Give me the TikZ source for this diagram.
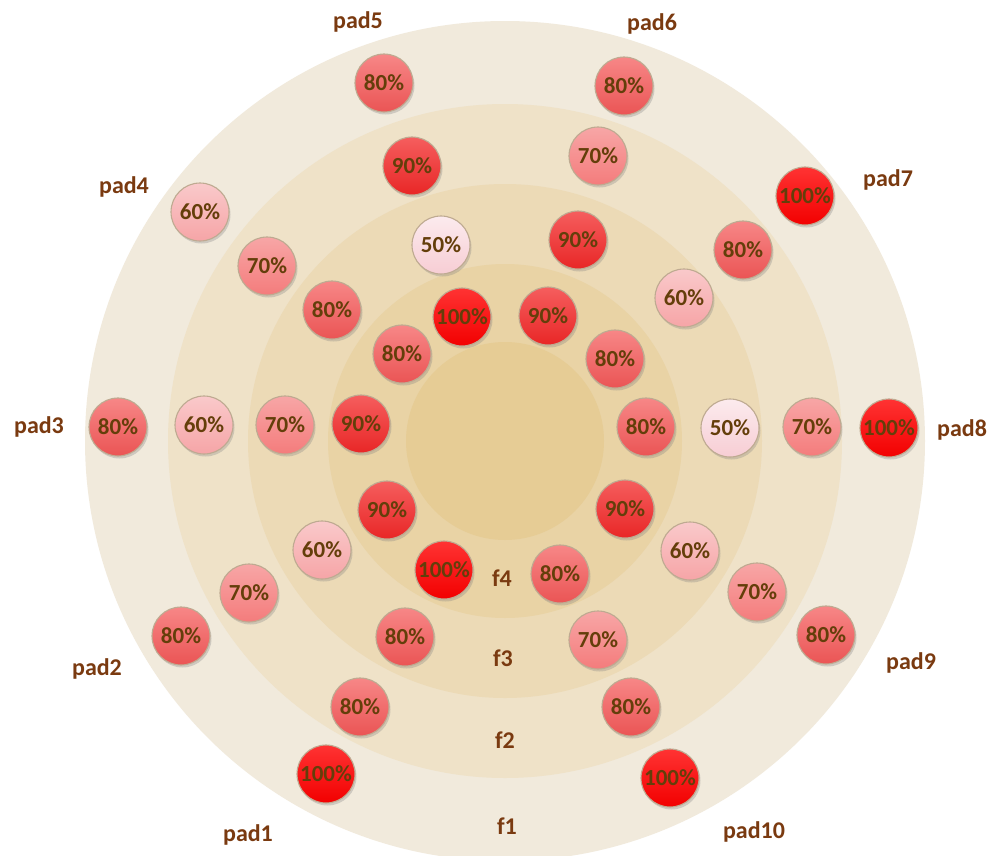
\documentclass[tikz,border=0pt]{standalone}
\usepackage{fontspec}
\setmainfont{Carlito}
\usetikzlibrary{shadows}
\definecolor{ringA}{RGB}{241,234,220}
\definecolor{ringB}{RGB}{239,226,200}
\definecolor{ringC}{RGB}{236,218,182}
\definecolor{ringD}{RGB}{233,211,165}
\definecolor{ringE}{RGB}{230,204,149}
\definecolor{padtxt}{RGB}{122,58,16}
\definecolor{pcttxt}{RGB}{100,62,10}
\definecolor{rim}{RGB}{190,170,145}
\definecolor{c100}{RGB}{255,0,0}
\definecolor{c90}{RGB}{242,40,40}
\definecolor{c80}{RGB}{244,88,88}
\definecolor{c70}{RGB}{244,124,124}
\definecolor{c60}{RGB}{246,165,167}
\definecolor{c50}{RGB}{247,205,212}
\tikzset{
  ball/.style={circle, minimum size=58pt, inner sep=0pt, draw=rim, line width=1.1pt,
    font=\bfseries\fontsize{23}{23}\selectfont, text=pcttxt,
    drop shadow={shadow xshift=1.5pt, shadow yshift=-2.5pt, opacity=0.3}},
  p100/.style={ball, top color=c100!80!white, middle color=c100, bottom color=c100!95!black},
  p90/.style={ball, top color=c90!75!white, middle color=c90, bottom color=c90!96!black},
  p80/.style={ball, top color=c80!72!white, middle color=c80, bottom color=c80!96!black},
  p70/.style={ball, top color=c70!68!white, middle color=c70, bottom color=c70},
  p60/.style={ball, top color=c60!60!white, middle color=c60, bottom color=c60},
  p50/.style={ball, top color=c50!40!white, middle color=c50, bottom color=c50},
  padlabel/.style={font=\bfseries\fontsize{24}{24}\selectfont, text=padtxt, inner sep=0pt},
  ringlabel/.style={font=\bfseries\fontsize{24}{24}\selectfont, text=padtxt, inner sep=0pt},
}
\begin{document}
\begin{tikzpicture}[x=1pt,y=-1pt]
\useasboundingbox (0,0) rectangle (997,855);
\clip (0,0) rectangle (997,855);
\fill[white] (0,0) rectangle (997,855);
% concentric bands
\coordinate (ctr) at (505,441);
\fill[ringA] (ctr) circle[radius=420];
\fill[ringB] (ctr) circle[radius=337];
\fill[ringC] (ctr) circle[radius=257];
\fill[ringD] (ctr) circle[radius=177];
\fill[ringE] (ctr) circle[radius=99];
% band labels
\node[ringlabel] (f4) at (502,578) {f4};
\node[ringlabel] (f3) at (503,658) {f3};
\node[ringlabel] (f2) at (505,740) {f2};
\node[ringlabel] (f1) at (507,826) {f1};
% pad labels
\node[padlabel] (pad1) at (248,835) {pad1};
\node[padlabel] (pad2) at (97,669) {pad2};
\node[padlabel] (pad3) at (39,427) {pad3};
\node[padlabel] (pad4) at (124,187) {pad4};
\node[padlabel] (pad5) at (358,22) {pad5};
\node[padlabel] (pad6) at (652,24) {pad6};
\node[padlabel] (pad7) at (888,180) {pad7};
\node[padlabel] (pad8) at (962,430) {pad8};
\node[padlabel] (pad9) at (911,663) {pad9};
\node[padlabel] (pad10) at (754,832) {pad10};
% horizontal row
\node[p80] (b1) at (118,427) {80\%};
\node[p60] (b2) at (204,425) {60\%};
\node[p70] (b3) at (285,425) {70\%};
\node[p90] (b4) at (361,424) {90\%};
\node[p80] (b5) at (646,427) {80\%};
\node[p50] (b6) at (730,428) {50\%};
\node[p70] (b7) at (812,427) {70\%};
\node[p100] (b8) at (889,428) {100\%};
% upper half
\node[p80] (b9) at (384,83) {80\%};
\node[p80] (b10) at (624,86) {80\%};
\node[p90] (b11) at (412,166) {90\%};
\node[p70] (b12) at (598,156) {70\%};
\node[p100] (b13) at (805,196) {100\%};
\node[p60] (b14) at (200,212) {60\%};
\node[p50] (b15) at (441,245) {50\%};
\node[p90] (b16) at (578,240) {90\%};
\node[p80] (b17) at (743,250) {80\%};
\node[p70] (b18) at (267,266) {70\%};
\node[p60] (b19) at (684,298) {60\%};
\node[p80] (b20) at (332,310) {80\%};
\node[p100] (b21) at (462,317) {100\%};
\node[p90] (b22) at (548,316) {90\%};
\node[p80] (b23) at (402,354) {80\%};
\node[p80] (b24) at (615,359) {80\%};
% lower half
\node[p90] (b25) at (387,510) {90\%};
\node[p90] (b26) at (625,509) {90\%};
\node[p60] (b27) at (322,550) {60\%};
\node[p60] (b28) at (690,551) {60\%};
\node[p100] (b29) at (444,570) {100\%};
\node[p80] (b30) at (560,574) {80\%};
\node[p70] (b31) at (249,593) {70\%};
\node[p70] (b32) at (757,592) {70\%};
\node[p80] (b33) at (181,636) {80\%};
\node[p80] (b34) at (826,635) {80\%};
\node[p80] (b35) at (405,637) {80\%};
\node[p70] (b36) at (598,640) {70\%};
\node[p80] (b37) at (360,707) {80\%};
\node[p80] (b38) at (631,707) {80\%};
\node[p100] (b39) at (326,774) {100\%};
\node[p100] (b40) at (670,778) {100\%};
\end{tikzpicture}
\end{document}
